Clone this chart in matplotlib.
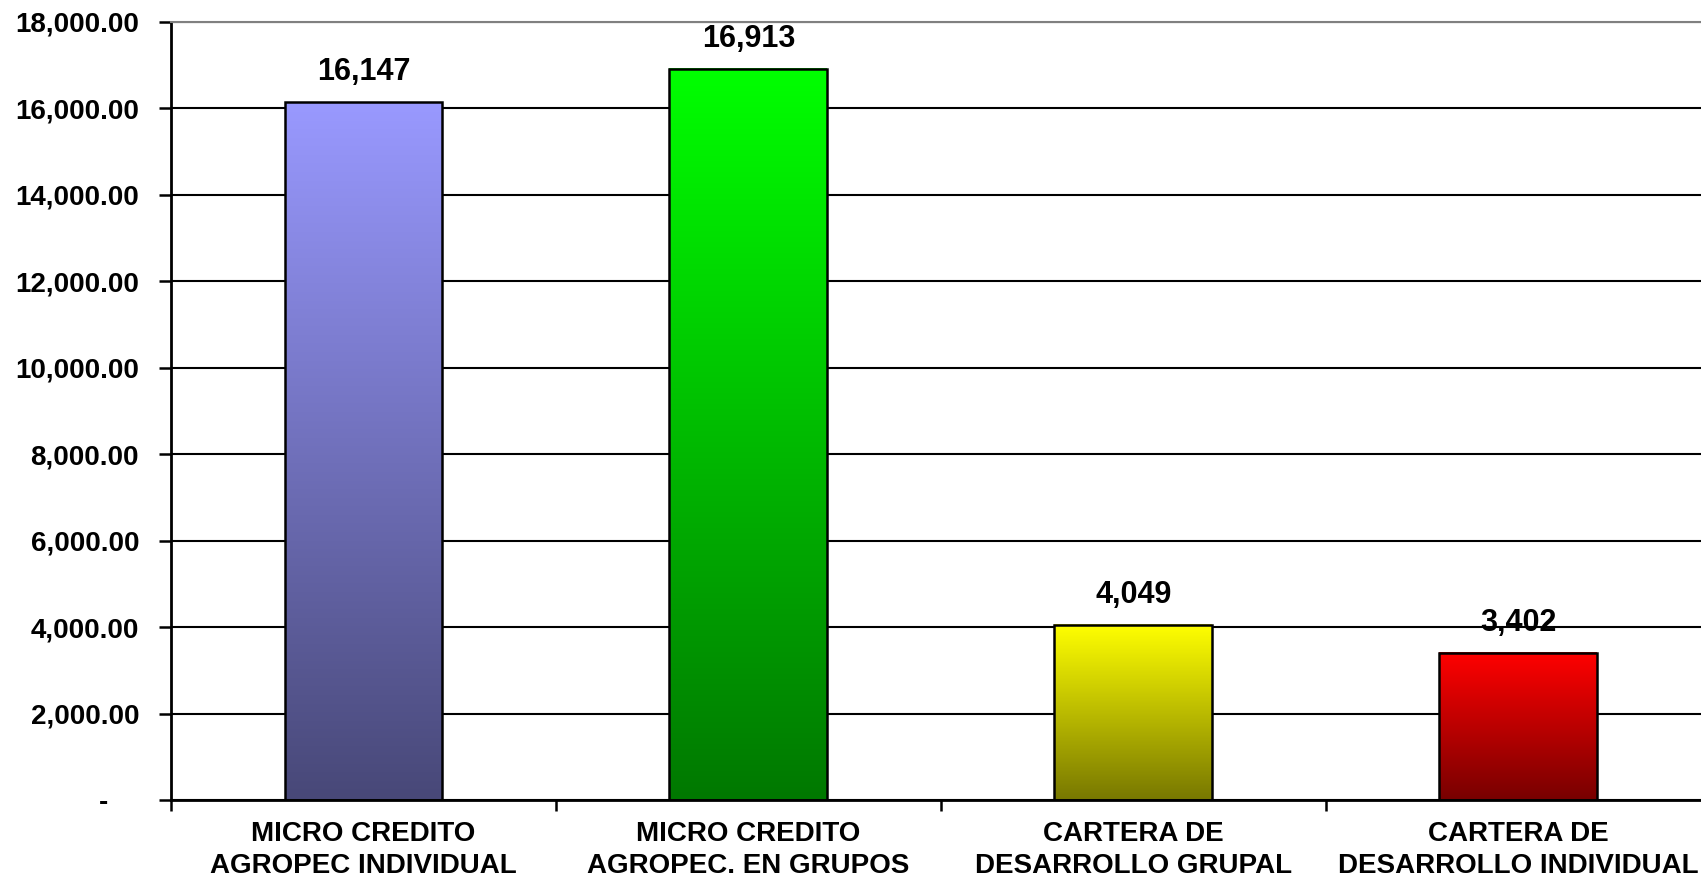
import numpy as np
import matplotlib
matplotlib.use("Agg")
import matplotlib.pyplot as plt
from matplotlib.colors import to_rgb
from matplotlib.ticker import FuncFormatter, FixedLocator

categories = ["MICRO CREDITO\nAGROPEC INDIVIDUAL", "MICRO CREDITO\nAGROPEC. EN GRUPOS",
              "CARTERA DE\nDESARROLLO GRUPAL", "CARTERA DE\nDESARROLLO INDIVIDUAL"]
values = [16147, 16913, 4049, 3402]
top_colors = ["#9999FF", "#00FF00", "#FFFF00", "#FF0000"]
bottom_shade = 0.47

plt.rcParams['font.family'] = ['Liberation Sans', 'DejaVu Sans']
plt.rcParams['font.weight'] = 'bold'

fig = plt.figure(figsize=(17.01, 8.75), dpi=100)
ax = fig.add_axes([0.1005, 0.0857, 0.9053, 0.8892])

x = np.arange(len(categories))
bars = ax.bar(x, values, width=0.41, color="none", edgecolor="black", linewidth=1.8, zorder=3)

# vertical gradient inside each bar, dark at the bottom
for b, c in zip(bars, top_colors):
    rgb = np.array(to_rgb(c))
    shade = np.linspace(bottom_shade, 1.0, 256)[::-1]
    grad = shade[:, None, None] * rgb[None, None, :]
    x0, y0, w, h = b.get_x(), b.get_y(), b.get_width(), b.get_height()
    ax.imshow(grad, extent=(x0, x0 + w, y0, y0 + h), aspect="auto", zorder=2, interpolation="bilinear")

for b, v in zip(bars, values):
    ax.annotate(f"{v:,}", (b.get_x() + b.get_width() / 2, b.get_height()),
                xytext=(0, 11), textcoords="offset points", ha="center", va="bottom",
                fontsize=22, fontweight="bold")

ax.set_xlim(-0.5, len(categories) - 0.5)
ax.set_ylim(0, 18000)
ax.yaxis.set_major_locator(FixedLocator(np.arange(0, 18001, 2000)))
ax.yaxis.set_major_formatter(FuncFormatter(lambda v, p: "-    " if v == 0 else f"{v:,.2f}"))
ax.grid(axis="y", color="black", linewidth=1.5, zorder=0)
ax.set_axisbelow(True)

ax.set_xticks(x)
ax.set_xticklabels(categories, fontsize=20, fontweight="bold", linespacing=1.3)
ax.set_xticks(np.arange(-0.5, len(categories), 1.0), minor=True)
ax.tick_params(axis="x", which="major", length=0, pad=15)
ax.tick_params(axis="x", which="minor", length=8, width=1.8, direction="out")
ax.tick_params(axis="y", length=9, width=1.8, direction="out", pad=14, labelsize=20)
for lab in ax.get_yticklabels():
    lab.set_fontweight("bold")

ax.spines["left"].set_linewidth(2)
ax.spines["bottom"].set_linewidth(2)
ax.spines["top"].set_color("#808080")
ax.spines["top"].set_linewidth(1.5)
ax.spines["right"].set_visible(False)

fig.savefig("out.png", dpi=100)
